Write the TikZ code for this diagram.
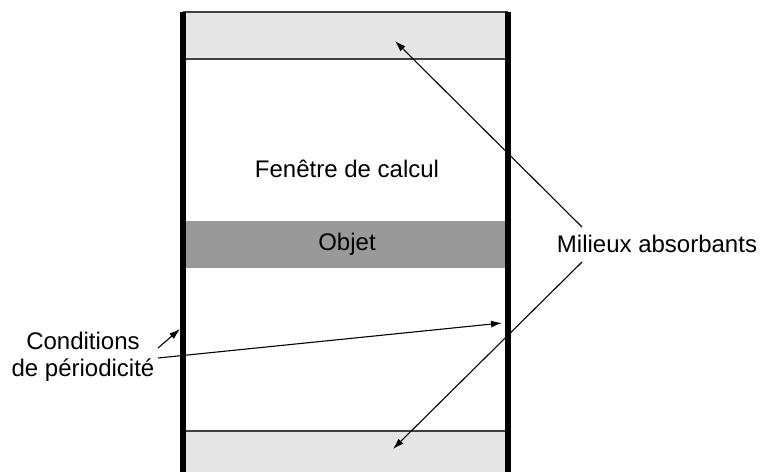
\documentclass[tikz,border=0pt]{standalone}
\usepackage{fontspec}
\setmainfont{Liberation Sans}
\usetikzlibrary{arrows.meta}
\definecolor{grisclair}{HTML}{E5E5E5}
\definecolor{grisobjet}{HTML}{999999}
\definecolor{grisbord}{HTML}{404040}
\tikzset{
    texte/.style={inner sep=0pt,font=\fontsize{24}{26.5}\selectfont,align=center},
    bord/.style={line width=5.5pt},
    limite/.style={grisbord,line width=1.3pt},
    fleche/.style={-{Latex[length=11pt,width=7pt]},line width=1.1pt},
}
\begin{document}
\begin{tikzpicture}[x=1pt,y=-1pt]
    \useasboundingbox (0,0) rectangle (765,472);
    % bandes
    \fill[grisclair] (183,12) rectangle (508,59);
    \fill[grisclair] (183,431) rectangle (508,472);
    \fill[grisobjet] (183,221) rectangle (508,268);
    \draw[limite] (183,12) --(508,12);
    \draw[limite] (183,59) --(508,59);
    \draw[limite] (183,431) --(508,431);
    \draw[bord] (183,12) --(183,472);
    \draw[bord] (508,12) --(508,472);
    % textes
    \node[texte] (fen) at (347,169) {Fenêtre de calcul};
    \node[texte] (obj) at (347,244) {Objet};
    \node[texte] (mil) at (657,244) {Milieux absorbants};
    \node[texte] (cond) at (83,357) {Conditions\\de périodicité};
    % extremites des fleches
    \coordinate (mh) at (582,227);
    \coordinate (mb) at (582,262);
    \coordinate (haut) at (395,41);
    \coordinate (bas) at (393,449);
    \coordinate (c1) at (158,348);
    \coordinate (c2) at (158,358);
    \coordinate (gauche) at (180,329);
    \coordinate (droite) at (502,323);
    \draw[fleche] (mh) --(haut);
    \draw[fleche] (mb) --(bas);
    \draw[fleche] (c1) --(gauche);
    \draw[fleche] (c2) --(droite);
\end{tikzpicture}
\end{document}
